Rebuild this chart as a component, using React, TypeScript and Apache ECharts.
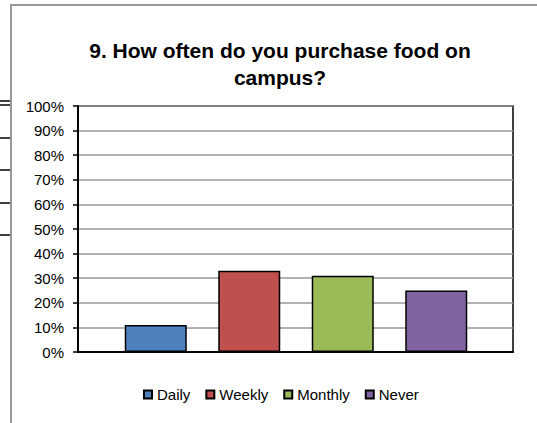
import React, { useEffect, useRef } from "react";
import * as echarts from "echarts";

const categories = ["Daily", "Weekly", "Monthly", "Never"];
const values = [11, 33, 31, 25];
const colors = ["#4F81BD", "#C0504D", "#9BBB59", "#8064A2"];
const titleText = "9. How often do you purchase food on\ncampus?";
const leftMarks = [101, 105, 138, 170, 203, 235];

export default function App() {
  const ref = useRef<HTMLDivElement>(null);
  useEffect(() => {
    if (!ref.current) return;
    const chart = echarts.init(ref.current, null, { renderer: "svg" });
    const font = "Liberation Sans, Arial, sans-serif";
    chart.setOption({
      animation: false,
      backgroundColor: "#fff",
      title: {
        text: titleText,
        left: 275,
        textAlign: "center",
        top: 32,
        textStyle: {
          fontFamily: font,
          fontWeight: "bold",
          fontSize: 21,
          lineHeight: 27,
          color: "#000",
        },
      },
      grid: [
        {
          left: 78,
          top: 106,
          right: 24,
          bottom: 71,
          show: true,
          borderColor: "#000",
          borderWidth: 1.5,
        },
        { left: 109, top: 106, right: 54, bottom: 71 },
      ],
      legend: {
        left: 138,
        top: 382,
        itemWidth: 8,
        itemHeight: 8,
        itemGap: 15,
        icon: "rect",
        data: categories,
        textStyle: { fontFamily: font, fontSize: 15, color: "#000" },
      },
      xAxis: [
        {
          type: "category",
          gridIndex: 0,
          data: categories,
          axisLine: { show: true, lineStyle: { color: "#000", width: 2 } },
          axisTick: { show: false },
          axisLabel: { show: false },
        },
        {
          type: "category",
          gridIndex: 1,
          data: categories,
          axisLine: { show: false },
          axisTick: { show: false },
          axisLabel: { show: false },
        },
      ],
      yAxis: [
        {
          type: "value",
          gridIndex: 0,
          min: 0,
          max: 100,
          interval: 10,
          axisLine: { show: true, lineStyle: { color: "#000", width: 2 } },
          axisTick: { show: true, length: 5, lineStyle: { color: "#000", width: 1.5 } },
          axisLabel: {
            formatter: "{value}%",
            fontFamily: font,
            fontSize: 15,
            color: "#000",
            margin: 14,
          },
          splitLine: { lineStyle: { color: "#999", width: 1.5 } },
        },
        {
          type: "value",
          gridIndex: 1,
          min: 0,
          max: 100,
          interval: 10,
          show: false,
          splitLine: { show: false },
        },
      ],
      series: categories.map((name, i) => ({
        name,
        type: "bar",
        xAxisIndex: 1,
        yAxisIndex: 1,
        stack: "all",
        barWidth: 62,
        data: categories.map((_, j) => (j === i ? values[i] : null)),
        itemStyle: { color: colors[i], borderColor: "#000", borderWidth: 1.5 },
      })),
      graphic: [
        {
          type: "rect",
          shape: { x: 11, y: 5, width: 700, height: 600 },
          style: { fill: "none", stroke: "#999", lineWidth: 2 },
          silent: true,
        },
        ...leftMarks.map((y) => ({
          type: "line",
          shape: { x1: 0, y1: y, x2: 10, y2: y },
          style: { stroke: "#000", lineWidth: 1.5 },
          silent: true,
        })),
      ],
    });
    return () => chart.dispose();
  }, []);
  return (
    <div
      ref={ref}
      style={{ position: "absolute", left: 0, top: 0, width: 537, height: 423 }}
    />
  );
}
